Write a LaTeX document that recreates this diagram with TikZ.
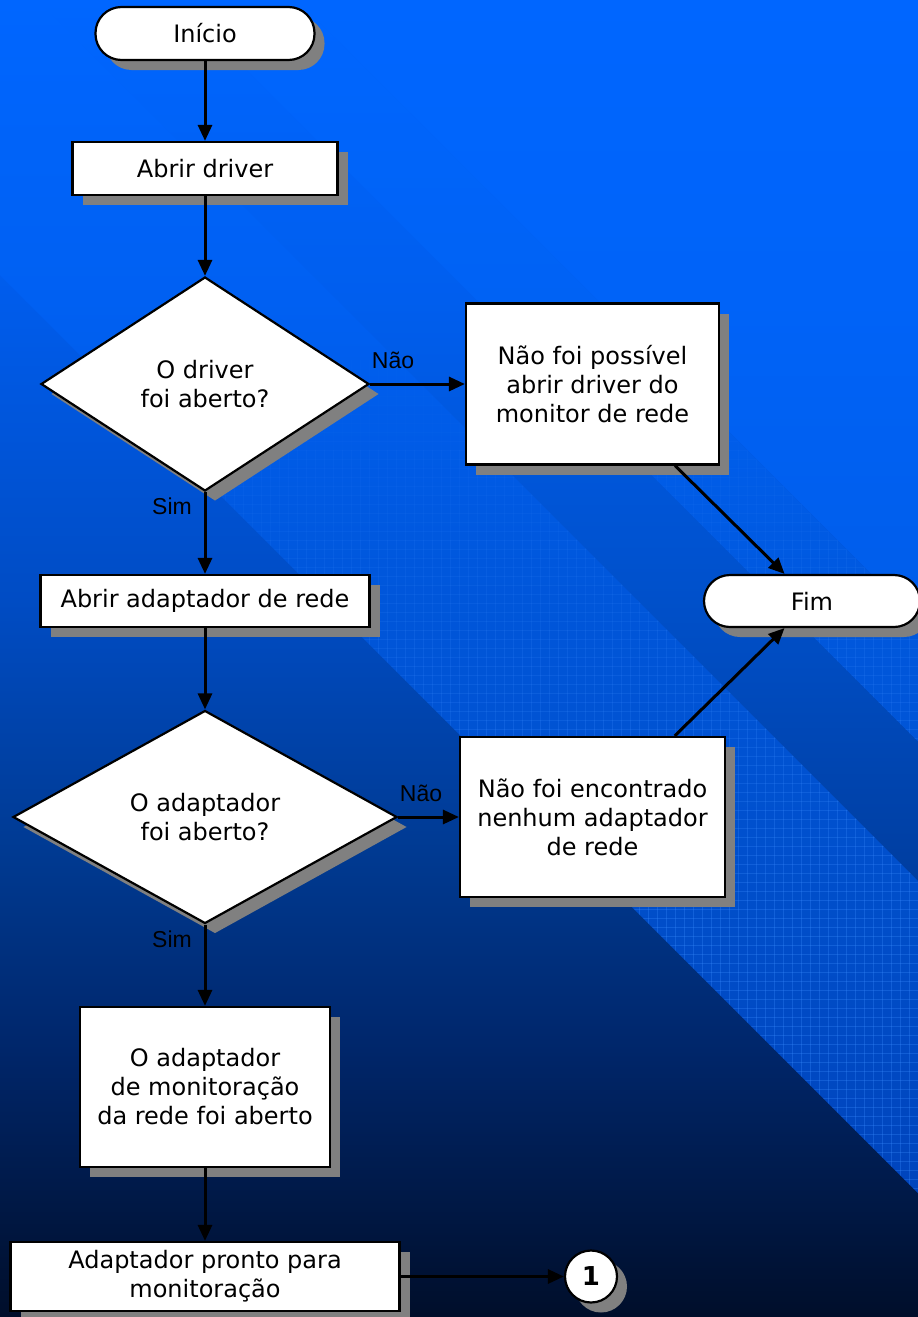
\documentclass[tikz,border=0pt]{standalone}
\usepackage{fontspec}
\setmainfont{DejaVu Sans}
\newfontfamily\labelfont{Liberation Sans}
\usetikzlibrary{shapes.geometric,arrows.meta,shadows}

% base gradient stops at y = 0, 300, 600, 850, 1050, 1317
\definecolor{b0}{HTML}{0066FF}
\definecolor{b1}{HTML}{005CEB}
\definecolor{b2}{HTML}{004CC4}
\definecolor{b3}{HTML}{003A92}
\definecolor{b4}{HTML}{00266A}
\definecolor{b5}{HTML}{000E2A}
% diagonal bands, stops at y = 0, 300, 600, 900, 1200
\definecolor{tr0}{HTML}{0066FF}
\definecolor{tr1}{HTML}{0063F8}
\definecolor{tr2}{HTML}{005DEA}
\definecolor{ab0}{HTML}{0066FF}
\definecolor{ab1}{HTML}{0062F4}
\definecolor{ab2}{HTML}{0058DE}
\definecolor{ab3}{HTML}{0050CE}
\definecolor{bc0}{HTML}{0066FF}
\definecolor{bc1}{HTML}{005EEE}
\definecolor{bc2}{HTML}{0050CA}
\definecolor{bc3}{HTML}{003C9C}
\definecolor{cd0}{HTML}{0066FF}
\definecolor{cd1}{HTML}{0060F2}
\definecolor{cd2}{HTML}{0056DA}
\definecolor{cd3}{HTML}{004ECA}
\definecolor{cd4}{HTML}{0044BC}
\definecolor{gridblue}{HTML}{3B8CFF}
\definecolor{shadowgray}{HTML}{808080}

\tikzset{
  box/.style={draw=black, line width=2.2pt, fill=white, inner sep=0pt,
    align=center, text=black, font=\fontsize{24}{29}\selectfont,
    drop shadow={shadow xshift=10pt, shadow yshift=-10pt, fill=shadowgray, opacity=1}},
  term/.style={box, rounded corners=26pt},
  decision/.style={box, diamond},
  conn/.style={line width=3pt, draw=black, -{Triangle[length=16pt,width=14pt]}},
  lbl/.style={font=\labelfont\fontsize{23}{26}\selectfont, text=black, inner sep=0pt},
  gridline/.style={draw=gridblue, line width=0.7pt},
}

\begin{document}
\begin{tikzpicture}[x=1pt,y=-1pt]
\useasboundingbox (0,0) rectangle (918,1317);
\clip (0,0) rectangle (918,1317);

% vertical background gradient, piecewise
\shade[top color=b0, bottom color=b1] (0,-1) rectangle (918,301);
\shade[top color=b1, bottom color=b2] (0,300) rectangle (918,601);
\shade[top color=b2, bottom color=b3] (0,600) rectangle (918,851);
\shade[top color=b3, bottom color=b4] (0,850) rectangle (918,1051);
\shade[top color=b4, bottom color=b5] (0,1050) rectangle (918,1318);

% upper right corner
\begin{scope}
  \clip (297,0) -- (918,0) -- (918,621) -- cycle;
  \shade[top color=tr0, bottom color=tr1] (0,-1) rectangle (918,301);
  \shade[top color=tr1, bottom color=tr2] (0,300) rectangle (918,601);
  \fill[tr2] (0,600) rectangle (918,700);
\end{scope}
% light band between the upper two diagonals
\begin{scope}
  \clip (297,0) -- (918,621) -- (918,742) -- (176,0) -- cycle;
  \shade[top color=ab0, bottom color=ab1] (0,-1) rectangle (918,301);
  \shade[top color=ab1, bottom color=ab2] (0,300) rectangle (918,601);
  \shade[top color=ab2, bottom color=ab3] (0,600) rectangle (918,901);
\end{scope}
% dark stripe
\begin{scope}
  \clip (176,0) -- (918,742) -- (918,881) -- (37,0) -- cycle;
  \shade[top color=bc0, bottom color=bc1] (0,-1) rectangle (918,301);
  \shade[top color=bc1, bottom color=bc2] (0,300) rectangle (918,601);
  \shade[top color=bc2, bottom color=bc3] (0,600) rectangle (918,901);
\end{scope}
% wide light band
\begin{scope}
  \clip (37,0) -- (918,881) -- (918,1193) -- (0,275) -- (0,0) -- cycle;
  \shade[top color=cd0, bottom color=cd1] (0,-1) rectangle (918,301);
  \shade[top color=cd1, bottom color=cd2] (0,300) rectangle (918,601);
  \shade[top color=cd2, bottom color=cd3] (0,600) rectangle (918,901);
  \shade[top color=cd3, bottom color=cd4] (0,900) rectangle (918,1201);
\end{scope}

% fine grid on the light bands, fading in towards the bottom
\begin{scope}
  \clip (297,0) -- (918,621) -- (918,742) -- (176,0) -- cycle
        (37,0) -- (918,881) -- (918,1193) -- (0,275) -- (0,0) -- cycle;
  \foreach \g in {360,369,...,1317} {
    \pgfmathsetmacro\op{min(0.3,0.3*(\g-350)/550)}
    \draw[gridline, opacity=\op] (0,\g) -- (918,\g);
  }
  \foreach \s in {360,450,...,1260} {
    \pgfmathsetmacro\op{min(0.3,0.3*(\s+45-350)/550)}
    \foreach \g in {0,9,...,918}
      \draw[gridline, opacity=\op] (\g,\s) -- (\g,\s+90);
  }
\end{scope}

% flowchart nodes
\node[term, minimum width=219pt, minimum height=53pt] (inicio) at (205,33.5) {Início};
\node[box, minimum width=265pt, minimum height=53pt] (abrir) at (205,168.5) {Abrir driver};
\node[decision, minimum width=328pt, minimum height=214pt] (dec1) at (205,384) {O driver\\foi aberto?};
\node[box, minimum width=253pt, minimum height=161pt] (falha1) at (592.5,384) {Não foi possível\\abrir driver do\\monitor de rede};
\node[term, minimum width=216pt, minimum height=52pt] (fim) at (812,601) {Fim};
\node[box, minimum width=329pt, minimum height=52pt] (adapt) at (205,601) {Abrir adaptador de rede};
\node[decision, minimum width=384pt, minimum height=213pt] (dec2) at (205,817) {O adaptador\\foi aberto?};
\node[box, minimum width=265pt, minimum height=160pt] (falha2) at (592.5,817) {Não foi encontrado\\nenhum adaptador\\de rede};
\node[box, minimum width=250pt, minimum height=160pt] (monit) at (205,1087) {O adaptador\\de monitoração\\da rede foi aberto};
\node[box, minimum width=389pt, minimum height=69pt] (pronto) at (205,1276.5) {Adaptador pronto para\\monitoração};
\node[box, circle, minimum size=52pt, font=\bfseries\fontsize{26}{29}\selectfont] (ref1) at (591,1276.5) {1};

% connectors
\draw[conn] (inicio) -- (abrir);
\draw[conn] (abrir) -- (dec1);
\draw[conn] (dec1) -- (falha1);
\draw[conn] (dec1) -- (adapt);
\draw[conn] (falha1) -- (fim);
\draw[conn] (adapt) -- (dec2);
\draw[conn] (dec2) -- (falha2);
\draw[conn] (falha2) -- (fim);
\draw[conn] (dec2) -- (monit);
\draw[conn] (monit) -- (pronto);
\draw[conn] (pronto) -- (ref1);

% branch labels
\node[lbl] (nao1) at (393,360) {Não};
\node[lbl] (sim1) at (172,506) {Sim};
\node[lbl] (nao2) at (421,793) {Não};
\node[lbl] (sim2) at (172,939) {Sim};
\end{tikzpicture}
\end{document}
